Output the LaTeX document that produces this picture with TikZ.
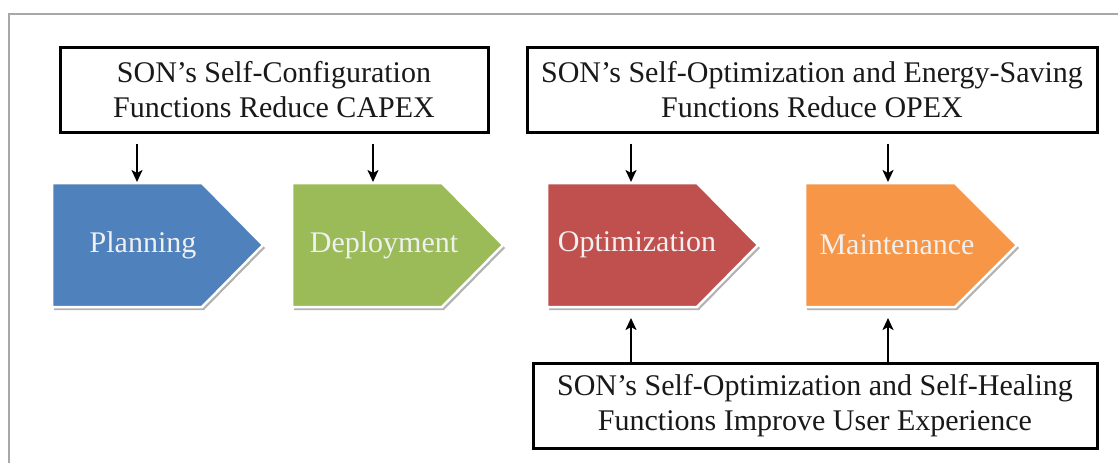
\documentclass[tikz,border=0pt]{standalone}
\usepackage{fontspec}
\setmainfont{Liberation Serif}
\usetikzlibrary{arrows.meta,shadows}
\definecolor{planblue}{HTML}{4F81BD}
\definecolor{deploygreen}{HTML}{9BBB59}
\definecolor{optred}{HTML}{C0504D}
\definecolor{maintorange}{HTML}{F79646}
\definecolor{framegray}{HTML}{A8A8A8}
\begin{document}
\begin{tikzpicture}[x=1pt,y=-1pt,
  infobox/.style={draw=black, line width=3pt, fill=white, align=center,
    inner sep=0pt, font=\fontsize{30}{35}\selectfont, text=black!90},
  stagefill/.style={fill=#1, draw=white, line width=2.5pt, line join=miter,
    drop shadow={shadow xshift=2pt, shadow yshift=-3pt, opacity=0.3, fill=black}},
  stagetext/.style={text=white!94!black, font=\fontsize{30}{35}\selectfont, inner sep=0pt},
  arr/.style={-{Stealth[length=12pt,width=11pt,inset=3pt]}, line width=2.4pt},
  frameline/.style={draw=framegray, line width=2.5pt}]

% canvas and outer frame (top and left edges only)
\useasboundingbox (0,0) rectangle (1118,463);
\fill[white] (0,0) rectangle (1118,463);
\draw[frameline] (1118,14) -- (9,14) -- (9,463);

% lifecycle stages as pentagon arrows
\path[stagefill=planblue]    (52,183) -- (202,183) -- (263,245) -- (202,307) -- (52,307) -- cycle;
\path[stagefill=deploygreen] (292,183) -- (442,183) -- (503,245) -- (442,307) -- (292,307) -- cycle;
\path[stagefill=optred]      (547,183) -- (697,183) -- (758,245) -- (697,307) -- (547,307) -- cycle;
\path[stagefill=maintorange] (805,183) -- (955,183) -- (1017,245) -- (955,307) -- (805,307) -- cycle;

\node[stagetext] (plan)   at (143,245) {Planning};
\node[stagetext] (deploy) at (384,245) {Deployment};
\node[stagetext] (opt)    at (637,245) {Optimization};
\node[stagetext] (maint)  at (897,245) {Maintenance};

% attachment points on the stage edges
\coordinate (plan-n)   at (137,182);
\coordinate (deploy-n) at (373,182);
\coordinate (opt-n)    at (631,182);
\coordinate (maint-n)  at (888,182);
\coordinate (opt-s)    at (631,318);
\coordinate (maint-s)  at (888,318);

% SON function boxes
\node[infobox, minimum width=428pt, minimum height=85pt] (capex) at (274,89.5)
  {SON’s Self-Configuration\\Functions Reduce CAPEX};
\node[infobox, minimum width=570pt, minimum height=85pt] (opex) at (812,89.5)
  {SON’s Self-Optimization and Energy-Saving\\Functions Reduce OPEX};
\node[infobox, minimum width=564pt, minimum height=85pt] (ux) at (815,405.5)
  {SON’s Self-Optimization and Self-Healing\\Functions Improve User Experience};

% connectors
\draw[arr, shorten <=10pt] (capex.south -| plan-n)   -- (plan-n);
\draw[arr, shorten <=10pt] (capex.south -| deploy-n) -- (deploy-n);
\draw[arr, shorten <=10pt] (opex.south -| opt-n)     -- (opt-n);
\draw[arr, shorten <=10pt] (opex.south -| maint-n)   -- (maint-n);
\draw[arr] (ux.north -| opt-s)   -- (opt-s);
\draw[arr] (ux.north -| maint-s) -- (maint-s);
\end{tikzpicture}
\end{document}
